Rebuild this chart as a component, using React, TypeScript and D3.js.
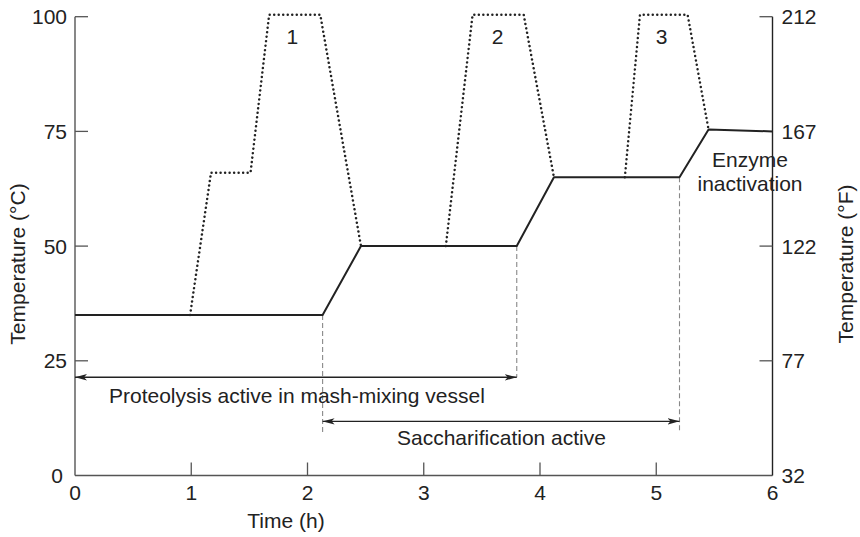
import React from "react";
import * as d3 from "d3";

// ---- data ----
const hourTicks = [0, 1, 2, 3, 4, 5, 6];
const celsiusTicks = [0, 25, 50, 75, 100];
const fahrenheitTicks = [32, 77, 122, 167, 212];

// main mash temperature (solid)
const mainTime = [0, 2.13, 2.46, 3.8, 4.12, 5.2, 5.45, 6.0];
const mainTemp = [35, 35, 50, 50, 65, 65, 75.4, 75];

// decoctions (dotted)
const decoction1Time = [0.99, 1.17, 1.51, 1.67, 2.11, 2.46];
const decoction1Temp = [35, 66, 66, 100.4, 100.4, 50];
const decoction2Time = [3.19, 3.42, 3.86, 4.12];
const decoction2Temp = [50, 100.4, 100.4, 65];
const decoction3Time = [4.73, 4.86, 5.27, 5.45];
const decoction3Temp = [65, 100.4, 100.4, 75.4];
const decoctionLabels = ["1", "2", "3"];
const decoctionLabelTime = [1.87, 3.635, 5.045];
const decoctionLabelTemp = [94, 94, 94];

// dashed guide lines (time, top temp, bottom temp)
const guideTime = [2.13, 3.8, 5.2];
const guideTop = [35, 50, 65];
const guideBottom = [9.5, 21.4, 9.5];

// ranges
const proteolysisRange = [0, 3.8];
const proteolysisTemp = 21.4;
const saccharificationRange = [2.13, 5.2];
const saccharificationTemp = 11.8;

const W = 860;
const H = 537;
const FONT = "'Liberation Sans', Arial, Helvetica, sans-serif";
const INK = "#222";
const AXIS = "#555";
const FS = 21;

export default function App() {
  const x = d3.scaleLinear().domain([0, 6]).range([75, 772.5]);
  const y = d3.scaleLinear().domain([0, 100]).range([475.5, 16.7]);
  const yF = d3.scaleLinear().domain([32, 212]).range([475.5, 16.7]);

  const line = d3
    .line<[number, number]>()
    .x((d) => x(d[0]))
    .y((d) => y(d[1]));

  const zip = (a: number[], b: number[]) =>
    a.map((v, i) => [v, b[i]] as [number, number]);

  const decoctions = [
    zip(decoction1Time, decoction1Temp),
    zip(decoction2Time, decoction2Temp),
    zip(decoction3Time, decoction3Temp),
  ];

  const [x0, x1] = x.range();
  const [yb, yt] = y.range();

  return (
    <svg
      width={W}
      height={H}
      style={{ position: "absolute", left: 0, top: 0, background: "#fff" }}
      fontFamily={FONT}
    >
      <defs>
        <marker
          id="arr"
          viewBox="0 0 12 8"
          refX="12"
          refY="4"
          markerWidth="12"
          markerHeight="8"
          markerUnits="userSpaceOnUse"
          orient="auto-start-reverse"
        >
          <path d="M0,0.8 L12,4 L0,7.2 L3,4 Z" fill={INK} />
        </marker>
      </defs>

      {/* axes frame */}
      <line x1={x0} x2={x0} y1={yt} y2={yb} stroke={AXIS} strokeWidth={1.4} />
      <line x1={x0} x2={x1} y1={yb} y2={yb} stroke={AXIS} strokeWidth={1.4} />
      <line x1={x1} x2={x1} y1={yt} y2={yb} stroke={INK} strokeWidth={1.4} />

      {/* left ticks */}
      {celsiusTicks.map((t) => (
        <g key={"c" + t}>
          {t !== 0 && (
            <line x1={x0} x2={x0 + 13} y1={y(t)} y2={y(t)} stroke={AXIS} strokeWidth={1.3} />
          )}
          <text
            x={t === 0 ? x0 - 12 : x0 - 8}
            y={y(t) + 7.5}
            textAnchor="end"
            fontSize={FS}
            fill={INK}
          >
            {t}
          </text>
        </g>
      ))}

      {/* right ticks */}
      {fahrenheitTicks.map((t) => (
        <g key={"f" + t}>
          {t !== 32 && t !== 167 && (
            <line x1={x1 - 13} x2={x1} y1={yF(t)} y2={yF(t)} stroke={AXIS} strokeWidth={1.3} />
          )}
          <text x={x1 + 9} y={yF(t) + 7.5} textAnchor="start" fontSize={FS} fill={INK}>
            {t}
          </text>
        </g>
      ))}

      {/* bottom ticks */}
      {hourTicks.map((t) => (
        <g key={"h" + t}>
          {t !== 0 && t !== 6 && (
            <line x1={x(t)} x2={x(t)} y1={yb} y2={yb - 13} stroke={AXIS} strokeWidth={1.3} />
          )}
          <text x={x(t)} y={500} textAnchor="middle" fontSize={FS} fill={INK}>
            {t}
          </text>
        </g>
      ))}

      {/* axis titles */}
      <text x={286} y={528} textAnchor="middle" fontSize={FS} fill={INK}>
        Time (h)
      </text>
      <text
        transform={`translate(25,${264}) rotate(-90)`}
        textAnchor="middle"
        fontSize={FS}
        fill={INK}
      >
        Temperature (°C)
      </text>
      <text
        transform={`translate(853,${264}) rotate(-90)`}
        textAnchor="middle"
        fontSize={FS}
        fill={INK}
      >
        Temperature (°F)
      </text>

      {/* dashed guides */}
      {guideTime.map((t, i) => (
        <line
          key={"g" + i}
          x1={x(t)}
          x2={x(t)}
          y1={y(guideTop[i])}
          y2={y(guideBottom[i])}
          stroke="#888"
          strokeWidth={1.1}
          strokeDasharray="5 3"
        />
      ))}

      {/* decoctions dotted */}
      {decoctions.map((d, i) => (
        <path
          key={"d" + i}
          d={line(d) || ""}
          fill="none"
          stroke={INK}
          strokeWidth={2.5}
          strokeDasharray="0.01 4.5"
          strokeLinecap="round"
          strokeLinejoin="round"
        />
      ))}
      {decoctionLabels.map((l, i) => (
        <text
          key={"l" + i}
          x={x(decoctionLabelTime[i])}
          y={y(decoctionLabelTemp[i])}
          textAnchor="middle"
          fontSize={FS}
          fill={INK}
        >
          {l}
        </text>
      ))}

      {/* main line */}
      <path
        d={line(zip(mainTime, mainTemp)) || ""}
        fill="none"
        stroke={INK}
        strokeWidth={2}
        strokeLinejoin="round"
      />

      {/* range arrows */}
      <line
        x1={x(proteolysisRange[0])}
        x2={x(proteolysisRange[1])}
        y1={y(proteolysisTemp)}
        y2={y(proteolysisTemp)}
        stroke={INK}
        strokeWidth={1.4}
        markerStart="url(#arr)"
        markerEnd="url(#arr)"
      />
      <text x={109} y={402.5} fontSize={FS} fill={INK}>
        Proteolysis active in mash-mixing vessel
      </text>
      <line
        x1={x(saccharificationRange[0])}
        x2={x(saccharificationRange[1])}
        y1={y(saccharificationTemp)}
        y2={y(saccharificationTemp)}
        stroke={INK}
        strokeWidth={1.4}
        markerStart="url(#arr)"
        markerEnd="url(#arr)"
      />
      <text x={397} y={445} fontSize={FS} fill={INK}>
        Saccharification active
      </text>

      {/* enzyme inactivation */}
      <text x={750} y={167} textAnchor="middle" fontSize={FS} fill={INK}>
        Enzyme
      </text>
      <text x={750} y={191} textAnchor="middle" fontSize={FS} fill={INK}>
        inactivation
      </text>
    </svg>
  );
}
